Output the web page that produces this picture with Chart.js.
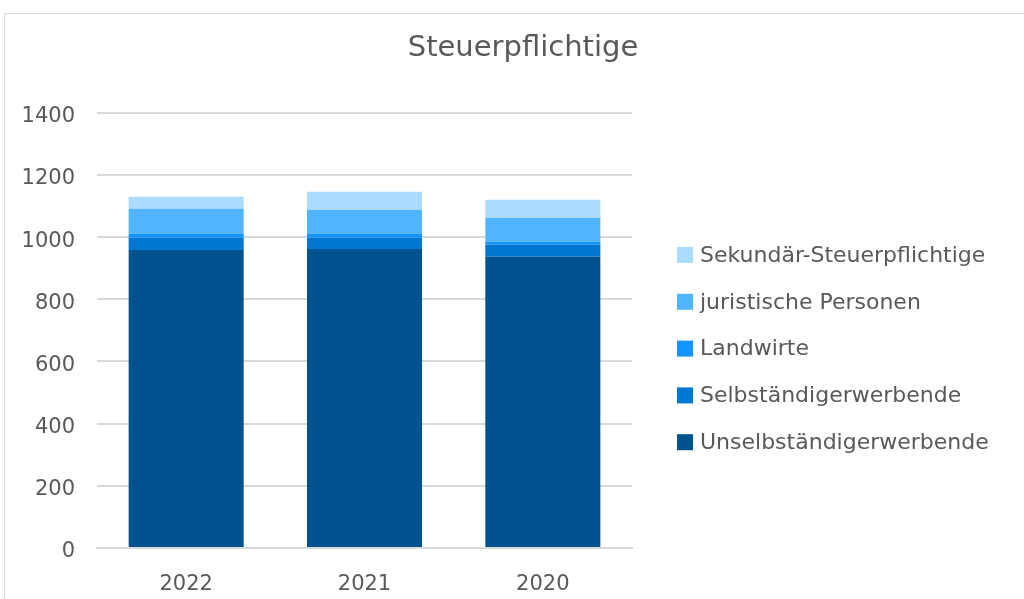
<!DOCTYPE html>
<html>
<head>
<meta charset="utf-8">
<script src="https://cdn.jsdelivr.net/npm/chart.js@4/dist/chart.umd.min.js"></script>
<style>
  body { margin: 0; background: #fff; }
  #frame { position: absolute; left: 4px; top: 13px; width: 1030px; height: 600px; border: 1px solid #d9d9d9; }
  #wrap { position: absolute; left: 0; top: 0; width: 1024px; height: 599px; }
</style>
</head>
<body>
<div id="frame"></div>
<div id="wrap"><canvas id="chart" width="1024" height="599"></canvas></div>
<script>
// Steuerpflichtige nach Kategorie
const years = ['2022', '2021', '2020'];
const unselbstaendig = [959, 962, 937];
const selbstaendig = [39, 36, 39];
const landwirte = [14, 14, 9];
const juristisch = [79, 76, 77];
const sekundaer = [39, 58, 58];
const yTicks = [0, 200, 400, 600, 800, 1000, 1200, 1400];

const fontFamily = '"DejaVu Sans", sans-serif';
const textColor = '#595959';

// legend drawn on the right, top item = last dataset (like the original)
const sideLegend = {
    id: 'sideLegend',
    afterDraw(chart) {
        const ctx = chart.ctx;
        const sets = chart.data.datasets.slice().reverse();
        const x = chart.chartArea.right + 45;
        let y = 255;
        ctx.save();
        ctx.font = '22px ' + fontFamily;
        ctx.textBaseline = 'middle';
        ctx.textAlign = 'left';
        sets.forEach(ds => {
            ctx.fillStyle = ds.backgroundColor;
            ctx.fillRect(x, y - 8, 16, 16);
            ctx.fillStyle = textColor;
            ctx.fillText(ds.label, x + 23, y + 1);
            y += 46.8;
        });
        ctx.restore();
    }
};

const chart = new Chart(document.getElementById('chart'), {
    type: 'bar',
    data: {
        labels: years,
        datasets: [
            { label: 'Unselbständigerwerbende', data: unselbstaendig, backgroundColor: '#00538f' },
            { label: 'Selbständigerwerbende', data: selbstaendig, backgroundColor: '#0077d0' },
            { label: 'Landwirte', data: landwirte, backgroundColor: '#1494ff' },
            { label: 'juristische Personen', data: juristisch, backgroundColor: '#50b4ff' },
            { label: 'Sekundär-Steuerpflichtige', data: sekundaer, backgroundColor: '#abdbff' }
        ]
    },
    plugins: [sideLegend],
    options: {
        responsive: false,
        animation: false,
        datasets: { bar: { categoryPercentage: 0.645, barPercentage: 1 } },
        layout: { padding: { left: 22, right: 0, top: 0, bottom: 0 } },
        plugins: {
            title: {
                display: true,
                text: 'Steuerpflichtige',
                color: textColor,
                font: { family: fontFamily, size: 29, weight: 'normal' },
                padding: { top: 31, bottom: 47 }
            },
            legend: { display: false },
            tooltip: { enabled: false }
        },
        scales: {
            x: {
                stacked: true,
                grid: { display: false, drawTicks: false },
                border: { color: '#d9d9d9', width: 2 },
                afterFit: (axis) => { axis.height = 51; },
                ticks: { color: textColor, font: { family: fontFamily, size: 21 }, padding: 24 }
            },
            y: {
                stacked: true,
                min: 0,
                max: 1400,
                afterBuildTicks: (axis) => { axis.ticks = yTicks.map(v => ({ value: v })); },
                afterFit: (axis) => { axis.width = 75; },
                grid: { color: '#d9d9d9', lineWidth: 2, drawTicks: false },
                border: { display: false },
                ticks: { color: textColor, font: { family: fontFamily, size: 21 }, padding: 22, labelOffset: 4, callback: (v) => String(v) }
            },
            // empty axis on the right only keeps room free for the legend
            side: {
                position: 'right',
                min: 0,
                max: 1,
                grid: { display: false, drawTicks: false },
                border: { display: false },
                ticks: { display: false },
                afterFit: (axis) => { axis.width = 392; }
            }
        }
    }
});
</script>
</body>
</html>
